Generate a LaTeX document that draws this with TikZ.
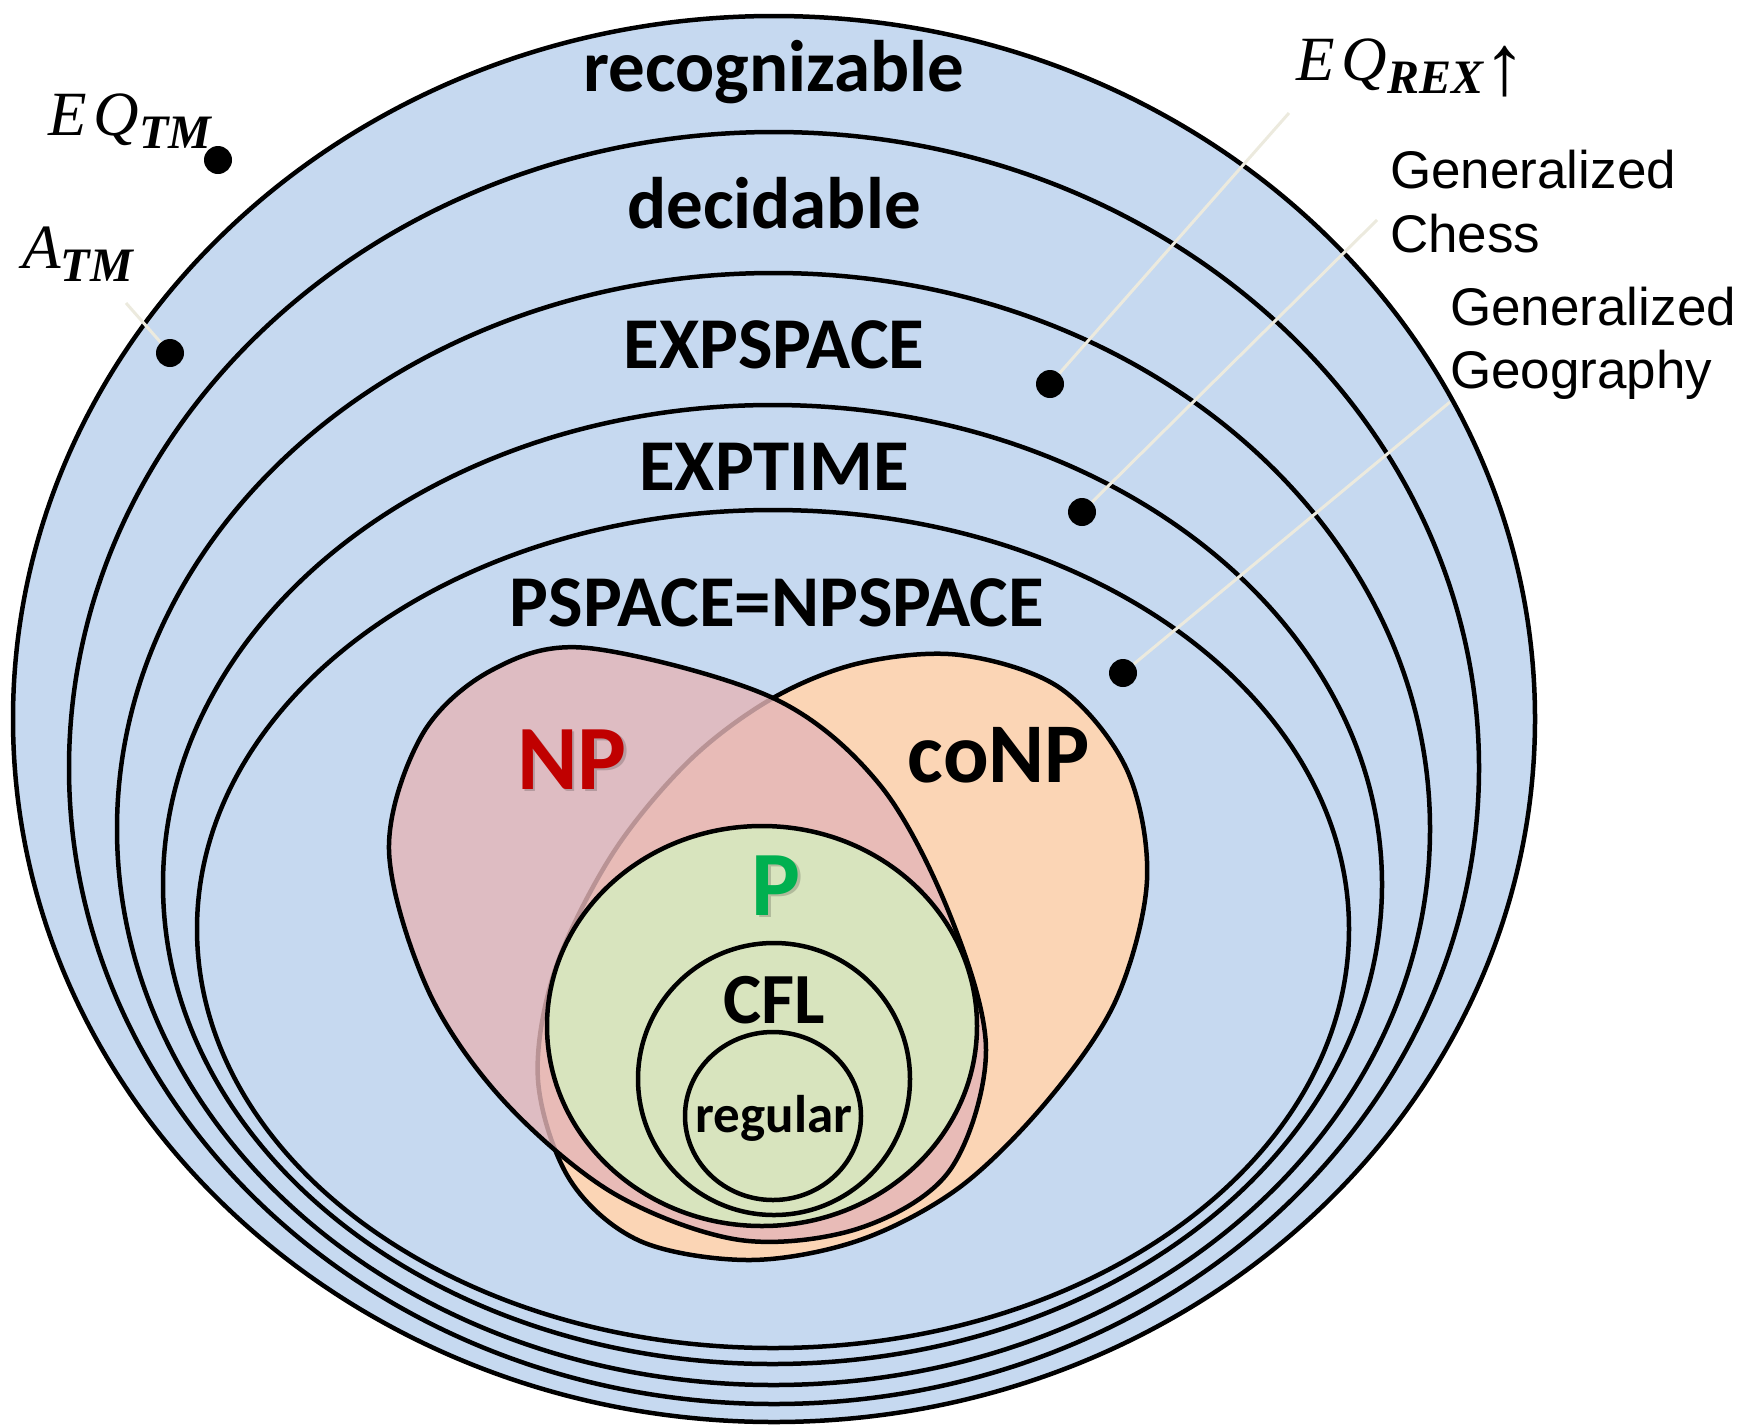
\documentclass[tikz,border=0pt]{standalone}
\usepackage{fontspec}
\setmainfont{Carlito}
\newfontfamily\arialfont{Liberation Sans}
\newfontfamily\langfont{Liberation Serif}

\definecolor{setblue}{RGB}{198,217,240}
\definecolor{nppink}{RGB}{228,182,184}
\definecolor{conppeach}{RGB}{251,213,181}
\definecolor{pgreen}{RGB}{216,228,190}
\definecolor{leadercol}{RGB}{236,234,222}
\definecolor{npred}{HTML}{C00000}
\definecolor{ptextgreen}{HTML}{00B050}

% language names: italic letters with a bold italic subscript
\newcommand{\langsub}[1]{\raisebox{-13pt}{\fontsize{48}{48}\selectfont\bfseries\itshape #1}}
\newcommand{\langmain}[1]{{\fontsize{63}{63}\selectfont\itshape #1}}
\newcommand{\langarrow}{\raisebox{-14pt}{\fontsize{86}{86}\selectfont\upshape\mdseries ↑}}

\tikzset{
  classset/.style={draw=black, line width=4.5pt, fill=setblue},
  innerset/.style={draw=black, line width=4.5pt, fill=pgreen},
  classlabel/.style={anchor=base, inner sep=0pt, font=\bfseries\fontsize{73}{80}\selectfont},
  biglabel/.style={anchor=base, inner sep=0pt, font=\bfseries\fontsize{#1}{#1}\selectfont},
  mathlabel/.style={anchor=base west, inner sep=0pt, font=\langfont},
  gamelabel/.style={anchor=base west, inner sep=0pt, font=\arialfont\fontsize{53}{62}\selectfont},
  langdot/.style={circle, fill=black, minimum size=28pt, inner sep=0pt},
  leaderline/.style={draw=leadercol, line width=3pt},
  textshadow/.style={text=black, opacity=0.18},
}

\begin{document}
\begin{tikzpicture}[x=1pt, y=-1pt]
\useasboundingbox (0,0) rectangle (1737,1425);

% nested decidability / complexity classes
\path[classset] (774,719) ellipse [x radius=761, y radius=703];
\path[classset] (774,768) ellipse [x radius=705, y radius=636];
\path[classset] (773.5,829) ellipse [x radius=656.5, y radius=556];
\path[classset] (772.5,884.5) ellipse [x radius=609.5, y radius=479.5];
\path[classset] (773,929) ellipse [x radius=576, y radius=419];

% coNP
\path[draw=black, line width=4.5pt, fill=conppeach]
  plot[smooth cycle, tension=0.55] coordinates {
    (773,698) (860,663) (960,655) (1060,688) (1127,770) (1147,880)
    (1116,1000) (1048,1100) (960,1187) (860,1240) (750,1260) (640,1241)
    (570,1180) (538,1080) (555,970) (613,853) (690,760)};

% NP, translucent so the coNP border shows through
\path[draw=black, line width=4.5pt, fill=nppink, fill opacity=0.81]
  plot[smooth cycle, tension=0.55] coordinates {
    (588,648) (773,698) (880,785) (950,915) (986,1050) (950,1170)
    (860,1228) (740,1240) (613,1193) (503,1100) (428,990) (389,850)
    (422,735) (492,670)};

% P, CFL, regular
\path[innerset] (762,1026) ellipse [x radius=215, y radius=200];
\path[innerset] (774,1079) ellipse [x radius=136, y radius=136];
\path[innerset] (773,1116) ellipse [x radius=88, y radius=84];

% class names
\node[classlabel] (recog) at (774,91) {recognizable};
\node[classlabel] (decid) at (774,228) {decidable};
\node[classlabel] (expspace) at (774,368) {EXPSPACE};
\node[classlabel] (exptime) at (774,490) {EXPTIME};
\node[classlabel] (pspace) at (777,626) {PSPACE=NPSPACE};

\node[biglabel=92, textshadow] (npshadow) at (574.5,791.5) {NP};
\node[biglabel=92, text=npred] (np) at (572,789) {NP};
\node[biglabel=85] (conp) at (999,782) {coNP};
\node[biglabel=92, textshadow] (pshadow) at (778.5,917.5) {P};
\node[biglabel=92, text=ptextgreen] (p) at (776,915) {P};
\node[biglabel=72] (cfl) at (774,1023) {CFL};
\node[biglabel=53] (regular) at (774,1132) {regular};

% example languages
\node[mathlabel] (eqtmlabel) at (48,135) {\langmain{E\kern7pt Q}\langsub{TM}};
\node[mathlabel] (atmlabel) at (22,268) {\langmain{A}\langsub{TM}};
\node[mathlabel] (eqrexlabel) at (1296,80) {\langmain{E\kern7pt Q}\langsub{REX}\langarrow};
\node[gamelabel] (chessA) at (1390,188) {Generalized};
\node[gamelabel] (chessB) at (1390,252) {Chess};
\node[gamelabel] (geoA) at (1450,325) {Generalized};
\node[gamelabel] (geoB) at (1450,388) {Geography};

\node[langdot] (eqtm) at (218,160) {};
\node[langdot] (atm) at (170,353) {};
\node[langdot] (eqrex) at (1050,384) {};
\node[langdot] (chess) at (1082,512) {};
\node[langdot] (geo) at (1123,673) {};

% leader lines
\coordinate (atmend) at (126,303);
\coordinate (eqrexend) at (1289,113);
\coordinate (chessend) at (1377,220);
\coordinate (geoend) at (1450,402);
\draw[leaderline] (atm) -- (atmend);
\draw[leaderline] (eqrex) -- (eqrexend);
\draw[leaderline] (chess) -- (chessend);
\draw[leaderline] (geo) -- (geoend);
\end{tikzpicture}
\end{document}
